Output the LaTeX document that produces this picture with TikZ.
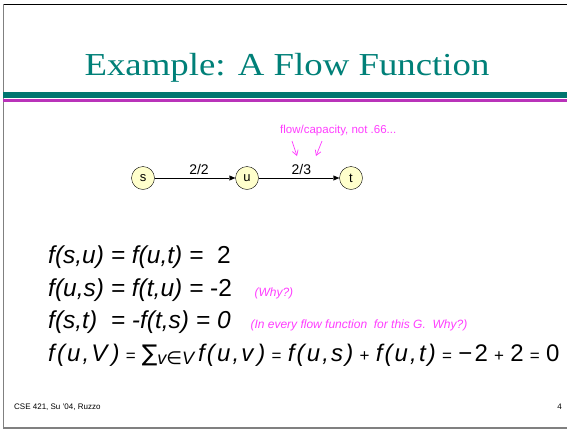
\documentclass[tikz,border=0pt]{standalone}
\usepackage{fontspec}
\setmainfont{Liberation Sans}
\newfontfamily\symfont{DejaVu Sans}
\newfontfamily\titlefont[FakeStretch=1.15]{Liberation Serif}
\usetikzlibrary{arrows.meta}
\definecolor{titleteal}{RGB}{0,128,120}
\definecolor{darkteal}{RGB}{0,118,112}
\definecolor{lightteal}{RGB}{0,206,208}
\definecolor{darkpink}{RGB}{185,50,185}
\definecolor{lightpink}{RGB}{255,80,255}
\definecolor{notepink}{RGB}{255,60,255}
\definecolor{nodeyellow}{RGB}{255,255,204}

\begin{document}
\begin{tikzpicture}[x=1pt,y=-1pt,
  vertex/.style={circle,draw,fill=nodeyellow,minimum size=23pt,inner sep=0pt,font=\fontsize{13}{13}\selectfont},
  flowedge/.style={-{Triangle[length=6pt,width=5pt]}},
  note/.style={text=notepink,font=\fontsize{12}{12}\selectfont\itshape},
  eqn/.style={anchor=base west,inner sep=0pt,font=\fontsize{24.5}{25}\selectfont\itshape}]
\useasboundingbox(0,0)rectangle(567,429);
% slide frame
\draw[black,line width=1.2pt](3,4.5)--(567,4.5);
\draw[gray,line width=1.5pt](3.5,4)--(3.5,428);
\draw[gray,line width=2pt](3,427.5)--(567,427.5);
% title and bars
\node[anchor=base,inner sep=0pt,text=titleteal,font=\fontsize{32}{32}\titlefont](title)at(287,75){Example: A Flow Function};
\shade[left color=darkteal,middle color=lightteal,right color=darkteal](3,92)rectangle(567,97);
\shade[left color=darkpink,middle color=lightpink,right color=darkpink](3,99)rectangle(567,101.5);
% the graph
\node[vertex](s)at(143,178){s};
\node[vertex](u)at(247,178){u};
\node[vertex](t)at(351,178){t};
\draw[flowedge](s)--node[pos=.55,above,font=\fontsize{14}{14}\selectfont]{2/2}(u);
\draw[flowedge](u)--node[pos=.53,above,font=\fontsize{14}{14}\selectfont]{2/3}(t);
\node[anchor=base west,inner sep=0pt,text=notepink,font=\fontsize{11.5}{12}\selectfont](capnote)at(280,133){flow/capacity, not .66...};
\coordinate(n1)at(292,141);\coordinate(n2)at(322,141);
\coordinate(h1)at(297,156);\coordinate(h2)at(316,156);
\draw[notepink,line width=.7pt,-{Straight Barb[length=5pt,width=6pt]}](n1)--(h1);
\draw[notepink,line width=.7pt,-{Straight Barb[length=5pt,width=6pt]}](n2)--(h2);
% the equations
\node[eqn](l1)at(48,263){f(s,u) = f(u,t) = \ {\upshape 2}};
\node[eqn](l2)at(48,296){f(u,s) = f(t,u) = {\upshape -2}};
\node[note,anchor=base west](why)at(251,296){(Why?)};
\node[eqn](l3)at(48,328){f(s,t) \ = -f(t,s) = 0};
\node[note,anchor=base west](every)at(247,328){(In every flow function \ for this G. \ Why?)};
\node[eqn,font=\fontsize{24}{24}\selectfont\addfontfeatures{LetterSpace=9}](l4)at(48,361){\itshape f(u,V\,){\upshape\fontsize{17}{17}\selectfont\ =\ }{\symfont\upshape\fontsize{23}{23}\selectfont ∑}\raisebox{-3pt}{\fontsize{18}{18}\selectfont v{\symfont\upshape ∈}V}\,f(u,v\,){\upshape\fontsize{17}{17}\selectfont\ =\ }f(u,s){\upshape\fontsize{17}{17}\selectfont\ +\ }f(u,t){\upshape\fontsize{17}{17}\selectfont\ =\ }{\upshape −2{\fontsize{17}{17}\selectfont\ +\ }2{\fontsize{17}{17}\selectfont\ =\ }0}};
% footer
\node[anchor=base west,inner sep=0pt,font=\fontsize{8}{8}\selectfont](foot)at(14,409){CSE 421, Su '04, Ruzzo};
\node[anchor=base east,inner sep=0pt,font=\fontsize{8}{8}\selectfont](pageno)at(562,409){4};
\end{tikzpicture}
\end{document}
